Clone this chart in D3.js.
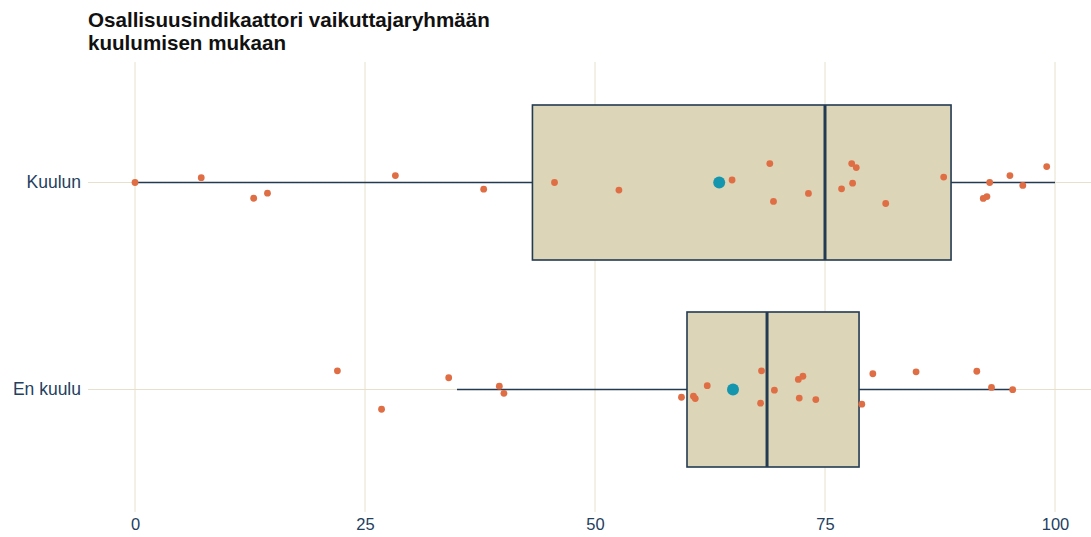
<!DOCTYPE html>
<html><head><meta charset="utf-8">
<script src="https://cdn.jsdelivr.net/npm/d3@7"></script>
<style>body{margin:0;background:#fff;} svg{display:block;font-family:"Liberation Sans",Arial,sans-serif;}</style>
</head><body><svg id="c" width="1091" height="537"></svg>
<script>
const categories = ["Kuulun", "En kuulu"];
const xTicks = [0, 25, 50, 75, 100];
// box statistics per category: [whiskerLow, q1, median, q3, whiskerHigh]
const boxKuulun = [0, 43.2, 75.0, 88.7, 100];
const boxEnKuulu = [35.0, 60.0, 68.7, 78.7, 95.4];
const meanValues = [63.5, 65.0];
// individual observations and their vertical jitter (fraction of jitter height)
const kuulunValues = [0, 7.2, 12.9, 14.4, 28.3, 37.9, 45.6, 52.6, 64.9, 69.0, 69.4, 73.2, 77.9, 78.4, 76.8, 78.0, 81.6, 87.9, 92.2, 92.6, 92.9, 95.1, 96.5, 99.1];
const kuulunJitter = [0, -0.23, 0.75, 0.51, -0.33, 0.32, 0, 0.36, -0.12, -0.9, 0.9, 0.52, -0.9, -0.71, 0.3, 0.03, 1.0, -0.26, 0.76, 0.67, 0, -0.33, 0.14, -0.76];
const enKuuluValues = [22.0, 26.8, 34.1, 39.6, 40.1, 59.4, 60.7, 60.9, 62.2, 68.1, 68.0, 69.5, 72.1, 72.6, 72.2, 74.0, 79.0, 80.2, 84.9, 91.5, 93.1, 95.4];
const enKuuluJitter = [-0.89, 0.94, -0.56, -0.16, 0.18, 0.37, 0.32, 0.43, -0.18, -0.89, 0.65, 0.03, -0.48, -0.63, 0.41, 0.48, 0.7, -0.75, -0.84, -0.87, -0.1, 0.01];

const boxes = [boxKuulun, boxEnKuulu];
const pointSets = [
  kuulunValues.map((v,i)=>({v, j:kuulunJitter[i]})),
  enKuuluValues.map((v,i)=>({v, j:enKuuluJitter[i]}))
];

const svg = d3.select("#c");
const plotLeft = 88, plotRight = 1091, plotTop = 62, plotBottom = 512;

const x = d3.scaleLinear().domain([0, 100]).range([135, 1055]);
const y = d3.scaleBand().domain(categories).range([105, 467]).paddingInner(0.2512).paddingOuter(0);
const yc = c => y(c) + y.bandwidth()/2;
const jitterH = 21;

const grid = "#e6e0cc";
svg.append("g").selectAll("line").data(xTicks).join("line")
  .attr("x1", d=>x(d)).attr("x2", d=>x(d))
  .attr("y1", plotTop).attr("y2", plotBottom)
  .attr("stroke", grid).attr("stroke-width", 1);
svg.append("g").selectAll("line").data(categories).join("line")
  .attr("x1", plotLeft).attr("x2", plotRight)
  .attr("y1", d=>yc(d)).attr("y2", d=>yc(d))
  .attr("stroke", grid).attr("stroke-width", 1);

const ink = "#233b52";
categories.forEach((c, i) => {
  const b = boxes[i];
  const g = svg.append("g");
  g.append("line").attr("x1", x(b[0])).attr("x2", x(b[1])).attr("y1", yc(c)).attr("y2", yc(c))
    .attr("stroke", ink).attr("stroke-width", 1.6);
  g.append("line").attr("x1", x(b[3])).attr("x2", x(b[4])).attr("y1", yc(c)).attr("y2", yc(c))
    .attr("stroke", ink).attr("stroke-width", 1.6);
  g.append("rect").attr("x", x(b[1])).attr("y", y(c)).attr("width", x(b[3]) - x(b[1])).attr("height", y.bandwidth())
    .attr("fill", "#ddd5b8").attr("stroke", ink).attr("stroke-width", 1.6);
  g.append("line").attr("x1", x(b[2])).attr("x2", x(b[2])).attr("y1", y(c)).attr("y2", y(c) + y.bandwidth())
    .attr("stroke", ink).attr("stroke-width", 3);
  g.selectAll("circle.pt").data(pointSets[i]).join("circle").attr("class", "pt")
    .attr("cx", d=>x(d.v)).attr("cy", d=>yc(c) + d.j*jitterH).attr("r", 3.4)
    .attr("fill", "#e06e45");
  g.append("circle").attr("cx", x(meanValues[i])).attr("cy", yc(c)).attr("r", 6)
    .attr("fill", "#1497ae");
});

const labelColor = "#23405e";
const xAxis = d3.axisBottom(x).tickValues(xTicks).tickSize(0).tickPadding(0);
const ax = svg.append("g").attr("transform", `translate(0,${plotBottom})`).call(xAxis);
ax.select(".domain").remove();
ax.selectAll("text").attr("dy", null).attr("y", 18).attr("font-size", 16.5)
  .attr("fill", labelColor).attr("font-family", "'Liberation Sans',Arial,sans-serif");

const yAxis = d3.axisLeft(y).tickSize(0).tickPadding(0);
const ay = svg.append("g").attr("transform", `translate(81,0)`).call(yAxis);
ay.select(".domain").remove();
ay.selectAll("text").attr("font-size", 17.5).attr("fill", labelColor)
  .attr("font-family", "'Liberation Sans',Arial,sans-serif");

const t = svg.append("text").attr("x", 88).attr("font-size", 20.6).attr("font-weight", "bold").attr("fill", "#111");
t.append("tspan").attr("x", 88).attr("y", 27).text("Osallisuusindikaattori vaikuttajaryhmään");
t.append("tspan").attr("x", 88).attr("y", 50).text("kuulumisen mukaan");
</script></body></html>
